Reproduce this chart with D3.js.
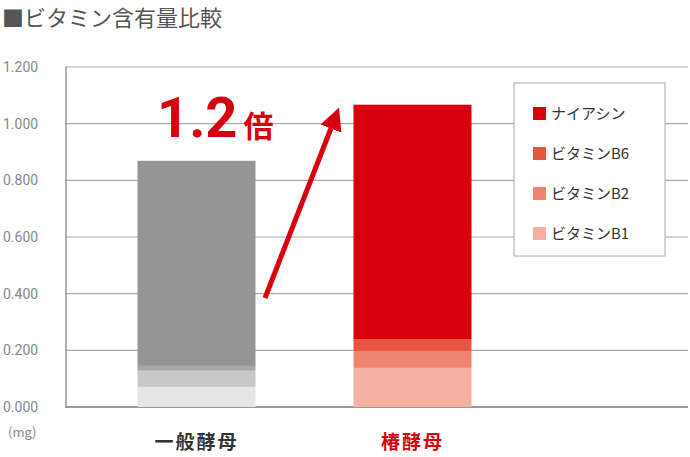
<!DOCTYPE html>
<html><head><meta charset="utf-8">
<script src="https://cdn.jsdelivr.net/npm/d3@7"></script>
<style>body{margin:0;background:#fff;font-family:"Noto Sans CJK JP","Noto Sans",sans-serif;}</style>
</head><body><div id="chart"></div>
<script>
const categories = ["一般酵母", "椿酵母"];
const series = ["ビタミンB1", "ビタミンB2", "ビタミンB6", "ナイアシン"];
const values = {
  "一般酵母": [0.071, 0.057, 0.017, 0.724],
  "椿酵母": [0.138, 0.060, 0.042, 0.827]
};
const grayColors = ["#e5e5e7", "#c8c8c9", "#a8a8a8", "#959595"];
const redColors = ["#f4b0a0", "#ef8470", "#e8543f", "#d7000f"];
const ticks = [0, 0.2, 0.4, 0.6, 0.8, 1.0, 1.2];
const legendOrder = ["ナイアシン", "ビタミンB6", "ビタミンB2", "ビタミンB1"];

const W = 690, H = 457;
const svg = d3.select("#chart").append("svg").attr("width", W).attr("height", H);

const y = d3.scaleLinear().domain([0, 1.2]).range([407, 67]);
const x = d3.scaleBand().domain(categories).range([73, 536]).paddingInner(0.4537).paddingOuter(0.2986);

svg.append("text").attr("x", 2).attr("y", 26).attr("font-size", 22).attr("fill", "#555")
  .text("■ビタミン含有量比較");

// grid
svg.selectAll(".grid").data(ticks).enter().append("line")
  .attr("x1", 65).attr("x2", 688).attr("y1", d => y(d)).attr("y2", d => y(d))
  .attr("stroke", d => d === 0 ? "#999" : "#aaa").attr("stroke-width", d => d === 0 ? 2 : 1.2);
svg.append("line").attr("x1", 66).attr("x2", 66).attr("y1", y(1.2)).attr("y2", y(0))
  .attr("stroke", "#999").attr("stroke-width", 1.5);
svg.selectAll(".tick").data(ticks).enter().append("text")
  .attr("x", 3).attr("y", d => y(d) + 5).attr("font-size", 14).attr("fill", "#888")
  .attr("font-family", "Roboto, sans-serif")
  .text(d => d3.format(".3f")(d));
svg.append("text").attr("x", 8).attr("y", 437).attr("font-size", 13).attr("fill", "#888").text("(mg)");

categories.forEach((c, i) => {
  const cols = i === 0 ? grayColors : redColors;
  let acc = 0;
  values[c].forEach((v, j) => {
    svg.append("rect").attr("x", x(c)).attr("width", x.bandwidth())
      .attr("y", y(acc + v)).attr("height", y(acc) - y(acc + v)).attr("fill", cols[j]);
    acc += v;
  });
  svg.append("text").attr("x", x(c) + x.bandwidth() / 2).attr("y", 449)
    .attr("text-anchor", "middle").attr("font-size", 19).attr("font-weight", "bold")
    .attr("letter-spacing", 2)
    .attr("fill", i === 0 ? "#333" : "#d7000f").text(c);
});

// arrow
svg.append("defs").append("marker").attr("id", "ah").attr("viewBox", "0 0 10 10")
  .attr("refX", 5).attr("refY", 5).attr("markerWidth", 4.5).attr("markerHeight", 4.5).attr("orient", "auto")
  .append("path").attr("d", "M0,0L10,5L0,10Z").attr("fill", "#d7000f");
svg.append("line").attr("x1", 265).attr("y1", 298).attr("x2", 335).attr("y2", 118)
  .attr("stroke", "#d7000f").attr("stroke-width", 5).attr("marker-end", "url(#ah)");
const t = svg.append("text").attr("x", 157).attr("y", 137).attr("fill", "#d7000f").attr("font-weight", "bold");
t.append("tspan").attr("font-size", 56).attr("font-family", "Roboto, sans-serif").text("1.2");
t.append("tspan").attr("font-size", 30).attr("dx", 6).text("倍");

// legend
svg.append("rect").attr("x", 514).attr("y", 83).attr("width", 151).attr("height", 173)
  .attr("fill", "#fff").attr("stroke", "#aaa");
legendOrder.forEach((s, i) => {
  const yy = 113 + i * 40;
  svg.append("rect").attr("x", 533).attr("y", yy - 6).attr("width", 13).attr("height", 13)
    .attr("fill", redColors[series.indexOf(s)]);
  svg.append("text").attr("x", 551).attr("y", yy + 6).attr("font-size", 15).attr("fill", "#333").text(s);
});
</script></body></html>
